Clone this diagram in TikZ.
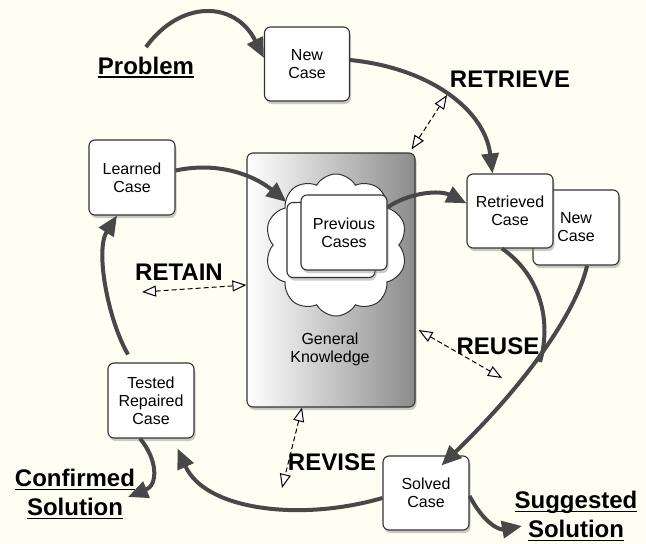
\documentclass[tikz,border=0pt]{standalone}
\usepackage{fontspec}
\setmainfont{Liberation Sans}
\usetikzlibrary{arrows.meta,shapes.symbols,shadows}
\definecolor{bgcream}{RGB}{254,254,243}
\definecolor{flowgray}{RGB}{72,72,72}
\newcommand\undl[1]{\setbox0\hbox{#1}\rlap{\rule[-4pt]{\wd0}{1.6pt}}\box0}

\begin{document}
\begin{tikzpicture}[x=1pt,y=-1pt,
  casebox/.style={rectangle,draw=black!80,line width=1.1pt,rounded corners=6pt,fill=white,minimum width=86pt,minimum height=74pt,align=center,font=\fontsize{16}{18}\selectfont,drop shadow={shadow xshift=1.5pt,shadow yshift=-3pt,fill=black!45,opacity=.45}},
  phase/.style={font=\fontsize{24}{29}\selectfont\bfseries,align=center},
  flow/.style={line width=4pt,draw=flowgray,-{Triangle[length=20pt,width=17pt]}},
  kblink/.style={dash pattern=on 5pt off 3pt,line width=1pt,{Triangle[open,length=14pt,width=11pt,fill=white]}-{Triangle[open,length=14pt,width=11pt,fill=white]}}]
\path[use as bounding box,fill=bgcream] (0,0) rectangle (646,544);

% knowledge base in the middle
\node[rectangle,draw=black!80,line width=1.1pt,rounded corners=6pt,minimum width=168pt,minimum height=254pt,left color=white,right color=black!45,drop shadow={shadow xshift=1.5pt,shadow yshift=-3pt,fill=black!45,opacity=.45}] (gk) at (331,280) {};
\node[font=\fontsize{16}{18}\selectfont,align=center] (gktext) at (330,349) {General\\Knowledge};
\node[cloud,draw=black!80,line width=1pt,fill=white,cloud puffs=10,cloud puff arc=120,aspect=1,minimum width=142pt,minimum height=142pt] (cloud) at (336,245) {};
\node[casebox,minimum width=88pt,minimum height=75pt] (prevback) at (331,240) {};
\node[casebox,minimum height=75pt] (prevfront) at (344,232.5) {Previous\\Cases};

% cases round the cycle
\node[casebox,minimum width=85pt] (newcase) at (307,64) {New\\Case};
\node[casebox,minimum height=75pt] (newcase2) at (576,227.5) {New\\Case};
\node[casebox] (retrieved) at (510,211) {Retrieved\\Case};
\node[casebox,minimum height=75pt] (learned) at (132,177.5) {Learned\\Case};
\node[casebox,minimum height=75pt] (tested) at (151,400.5) {Tested\\Repaired\\Case};
\node[casebox] (solved) at (426,493) {Solved\\Case};

% phase labels
\node[phase,anchor=base] (problem) at (146,74) {\undl{Problem}};
\node[phase,anchor=base] (retrieve) at (510,87) {RETRIEVE};
\node[phase,anchor=base] (retain) at (179,280) {RETAIN};
\node[phase,anchor=base] (reuse) at (498,354) {REUSE};
\node[phase,anchor=base] (revise) at (332,470) {REVISE};
\node[phase] (confirmed) at (75,494) {\undl{Confirmed}\\\undl{Solution}};
\node[phase] (suggested) at (576,516) {\undl{Suggested}\\\undl{Solution}};

\coordinate (conftip) at (128,497);
\coordinate (sugtip) at (522,526);
\coordinate (rtv) at (447,95);
\coordinate (rtn) at (142,292);
\coordinate (reu) at (502,378);
\coordinate (rvs) at (282,488);

% the cycle
\draw[flow] ([yshift=6pt]problem.north) .. controls (180,0) and (235,0) .. ([yshift=6pt]newcase.west);
\draw[flow] ([yshift=4pt]newcase.east) .. controls (430,68) and (485,110) .. (retrieved.115);
\draw[flow] ([yshift=7pt]learned.east) .. controls (225,160) and (260,180) .. (prevback.north west);
\draw[flow] (prevfront.30) .. controls (410,192) and (440,190) .. (retrieved.170);
\draw[line width=4pt,draw=flowgray] ([xshift=-8pt]retrieved.south) .. controls (540,275) and (552,320) .. (540,362);
\draw[flow] ([xshift=11pt]newcase2.south) .. controls (580,300) and (540,370) .. ([xshift=59pt,yshift=-10pt]solved.north west);
\draw[flow] ([yshift=-5pt]solved.west) .. controls (300,522) and (205,510) .. ([xshift=-17pt,yshift=-10pt]tested.south east);
\draw[flow] ([xshift=-23pt,yshift=8pt]tested.north) .. controls (108,320) and (95,250) .. ([xshift=-15pt]learned.south);
\draw[flow] ([xshift=-11pt]tested.south) .. controls (158,460) and (158,485) .. (conftip);
\draw[flow] ([yshift=-3pt]solved.east) .. controls (485,525) and (500,530) .. (sugtip);

% links to the knowledge base
\draw[kblink] (rtv) -- ([shift={(-4pt,3pt)}]gk.north east);
\draw[kblink] (rtn) -- ([yshift=-5pt]gk.west);
\draw[kblink] ([shift={(3pt,-50pt)}]gk.east) -- (reu);
\draw[kblink] ([xshift=-29pt]gk.south) -- (rvs);
\end{tikzpicture}
\end{document}
